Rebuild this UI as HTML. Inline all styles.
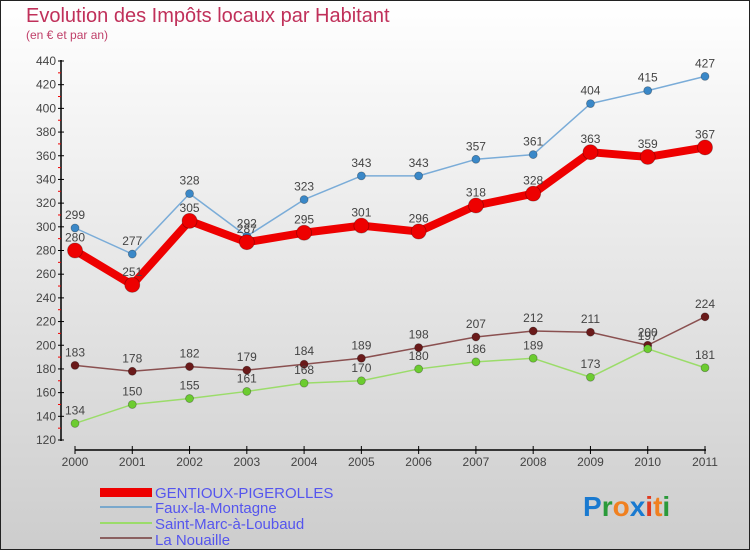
<!DOCTYPE html>
<html><head><meta charset="utf-8"><style>
body{margin:0}
#c{width:750px;height:550px;position:relative;overflow:hidden;font-family:"Liberation Sans","DejaVu Sans",sans-serif}
</style></head><body>
<div id="c">
<svg id="s" width="750" height="550" xmlns="http://www.w3.org/2000/svg">
<defs><linearGradient id="bg" x1="0" y1="0" x2="0" y2="1"><stop offset="0" stop-color="#ffffff"/><stop offset="1" stop-color="#cdcdcd"/></linearGradient></defs>
<rect x="0.5" y="0.5" width="749" height="549" fill="url(#bg)" stroke="#222"/>
<text x="26" y="22" font-size="20" fill="#c0305a">Evolution des Impôts locaux par Habitant</text>
<text x="26" y="39" font-size="12" fill="#c0406a">(en € et par an)</text>
<g id="axes"></g><g id="series"></g>
<g>
<rect x="100" y="488" width="52" height="9" fill="#e00"/>
<text x="155" y="498" font-size="15" fill="#5555ee">GENTIOUX-PIGEROLLES</text>
<rect x="100" y="506" width="52" height="2" fill="#7aa8cc"/>
<text x="155" y="513" font-size="15" fill="#5555ee">Faux-la-Montagne</text>
<rect x="100" y="522" width="52" height="2" fill="#9bdc6a"/>
<text x="155" y="529" font-size="15" fill="#5555ee">Saint-Marc-à-Loubaud</text>
<rect x="100" y="537" width="52" height="2" fill="#8a6060"/>
<text x="155" y="545" font-size="15" fill="#5555ee">La Nouaille</text>
</g>
<text x="583" y="516" font-size="28" font-weight="bold"><tspan fill="#1a7ad0">P</tspan><tspan fill="#2a9a3a">r</tspan><tspan fill="#f08020">o</tspan><tspan fill="#1a7ad0">x</tspan><tspan fill="#e03a20">i</tspan><tspan fill="#f08020">t</tspan><tspan fill="#2a9a3a">i</tspan></text>
</svg>
</div>
<script>
const years=[2000,2001,2002,2003,2004,2005,2006,2007,2008,2009,2010,2011];
const yTicks=[120,140,160,180,200,220,240,260,280,300,320,340,360,380,400,420,440];
const gentioux=[280,251,305,287,295,301,296,318,328,363,359,367];
const faux=[299,277,328,292,323,343,343,357,361,404,415,427];
const saintMarc=[134,150,155,161,168,170,180,186,189,173,197,181];
const nouaille=[183,178,182,179,184,189,198,207,212,211,200,224];
const NS="http://www.w3.org/2000/svg";
function X(i){return 75+i*(705-75)/(years.length-1);}
function Y(v){return 61+(440-v)*(440-61)/320;}
function mk(t,a,p){const e=document.createElementNS(NS,t);for(const k in a)e.setAttribute(k,a[k]);p.appendChild(e);return e;}
const ax=document.getElementById('axes');
let l=mk('line',{x1:61,y1:60,x2:61,y2:441,stroke:'#000','stroke-width':1.5},ax);


yTicks.forEach((v,i)=>{
 const t=mk('line',{x1:58,y1:Y(v),x2:64,y2:Y(v),stroke:'#000'},ax);
 
 
 const tx=mk('text',{x:56,y:Y(v)+4,'font-size':12,fill:'#444','text-anchor':'end'},ax);
 tx.textContent=v;
 
 
 if(i<yTicks.length-1){const m=mk('line',{x1:58,y1:Y(v+10),x2:61,y2:Y(v+10),stroke:'#e00'},ax);
 
 }
});
l=mk('line',{x1:75,y1:450,x2:706,y2:450,stroke:'#000','stroke-width':1.5},ax);


years.forEach((yr,i)=>{
 const t=mk('line',{x1:X(i),y1:446,x2:X(i),y2:454,stroke:'#000'},ax);
 
 
 const tx=mk('text',{x:X(i),y:466,'font-size':12,fill:'#444','text-anchor':'middle'},ax);
 tx.textContent=yr;
 
 
});
const sg=document.getElementById('series');
function draw(vals,name,lc,lw,mc,r){
 const g=mk('g',{},sg);
 
 
 const p=mk('polyline',{points:vals.map((v,i)=>X(i)+','+Y(v)).join(' '),fill:'none',stroke:lc,'stroke-width':lw,'stroke-linejoin':'round'},g);
 
 
 vals.forEach((v,i)=>{
  const c=mk('circle',{cx:X(i),cy:Y(v),r:r,fill:mc,stroke:'rgba(0,0,0,0.3)','stroke-width':0.8},g);
  
  
  const t=mk('text',{x:X(i),y:Y(v)-9,'font-size':12,fill:'#444','text-anchor':'middle'},g);
  t.textContent=v;
  
  
 });
}
draw(nouaille,'la-nouaille','#8a5050',1.5,'#6a1a1a',4);
draw(saintMarc,'saint-marc','#9bdc6a',1.5,'#6ccc30',4);
draw(faux,'faux-la-montagne','#7aacd8',1.5,'#3a88c8',4);
draw(gentioux,'gentioux','#ee0000',8,'#ee0000',7.5);
</script>
</body></html>
